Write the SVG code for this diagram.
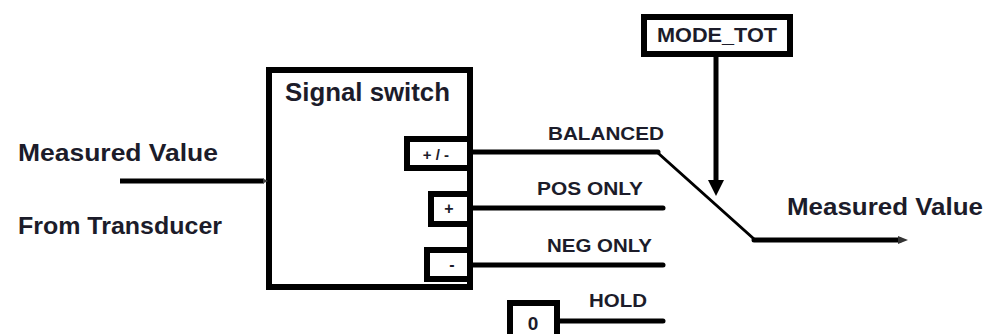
<svg xmlns="http://www.w3.org/2000/svg" width="987" height="334" viewBox="0 0 987 334">
  <defs>
    <style>
      .t { font-family: "Liberation Sans", Arial, sans-serif; font-weight: bold; fill: #1c1c2a; }
      .box { fill: #ffffff; stroke: #000000; stroke-width: 6; }
      .ln { stroke: #000000; stroke-width: 5; fill: none; }
      .dot { stroke-linecap: round; }
    </style>
  </defs>
  <rect width="987" height="334" fill="#ffffff"/>

  <g id="input-label">
    <text class="t" x="18" y="161" font-size="24" textLength="200" lengthAdjust="spacingAndGlyphs">Measured Value</text>
    <text class="t" x="18" y="234" font-size="24" textLength="204" lengthAdjust="spacingAndGlyphs">From Transducer</text>
  </g>

  <g id="signal-switch">
    <rect class="box" x="269" y="70" width="201" height="217"/>
    <text class="t" x="285" y="101" font-size="25" textLength="165" lengthAdjust="spacingAndGlyphs">Signal switch</text>
  </g>

  <g id="port-balanced">
    <rect class="box" x="407" y="139" width="63" height="29"/>
    <text class="t" x="436" y="160" font-size="15" text-anchor="middle">+ / -</text>
  </g>
  <g id="port-pos">
    <rect class="box" x="431" y="194" width="39" height="30"/>
    <text class="t" x="449" y="214" font-size="16" text-anchor="middle">+</text>
  </g>
  <g id="port-neg">
    <rect class="box" x="427" y="250" width="43" height="29"/>
    <text class="t" x="452" y="270" font-size="16" text-anchor="middle">-</text>
  </g>

  <g id="mode-tot">
    <rect class="box" x="644" y="17" width="146" height="37"/>
    <text class="t" x="717" y="42" font-size="20" text-anchor="middle" textLength="120" lengthAdjust="spacingAndGlyphs">MODE_TOT</text>
  </g>

  <g id="zero-const">
    <rect class="box" x="510" y="303" width="47" height="40"/>
    <text class="t" x="533" y="330" font-size="19" text-anchor="middle">0</text>
  </g>

  <g id="output-label">
    <text class="t" x="787" y="215" font-size="24" textLength="196" lengthAdjust="spacingAndGlyphs">Measured Value</text>
  </g>

  <g id="switch-labels">
    <text class="t" x="548" y="140" font-size="18" textLength="116" lengthAdjust="spacingAndGlyphs">BALANCED</text>
    <text class="t" x="537" y="195" font-size="18" textLength="106" lengthAdjust="spacingAndGlyphs">POS ONLY</text>
    <text class="t" x="547" y="252" font-size="18" textLength="105" lengthAdjust="spacingAndGlyphs">NEG ONLY</text>
    <text class="t" x="589" y="307" font-size="18" textLength="58" lengthAdjust="spacingAndGlyphs">HOLD</text>
  </g>

  <g id="connectors">
    <line class="ln" x1="120" y1="181" x2="264" y2="181"/>
    <path d="M263,178.5 L268,181 L263,183.5 z" fill="#444444"/>
    <line class="ln dot" x1="473" y1="152" x2="658" y2="152"/>
    <line class="ln dot" x1="473" y1="208" x2="663" y2="208"/>
    <line class="ln dot" x1="473" y1="265" x2="663" y2="265"/>
    <line class="ln dot" x1="560" y1="321" x2="663" y2="321"/>
    <line x1="658" y1="153" x2="754" y2="239" stroke="#000000" stroke-width="3" stroke-linecap="round"/>
    <line class="ln dot" x1="754" y1="240" x2="900" y2="240"/>
    <path d="M898,236 L908,240 L898,244 z" fill="#333333"/>
    <line class="ln" x1="716" y1="57" x2="716" y2="182"/>
    <path d="M708,180 L724,180 L716,196 z" fill="#000000"/>
  </g>
</svg>
